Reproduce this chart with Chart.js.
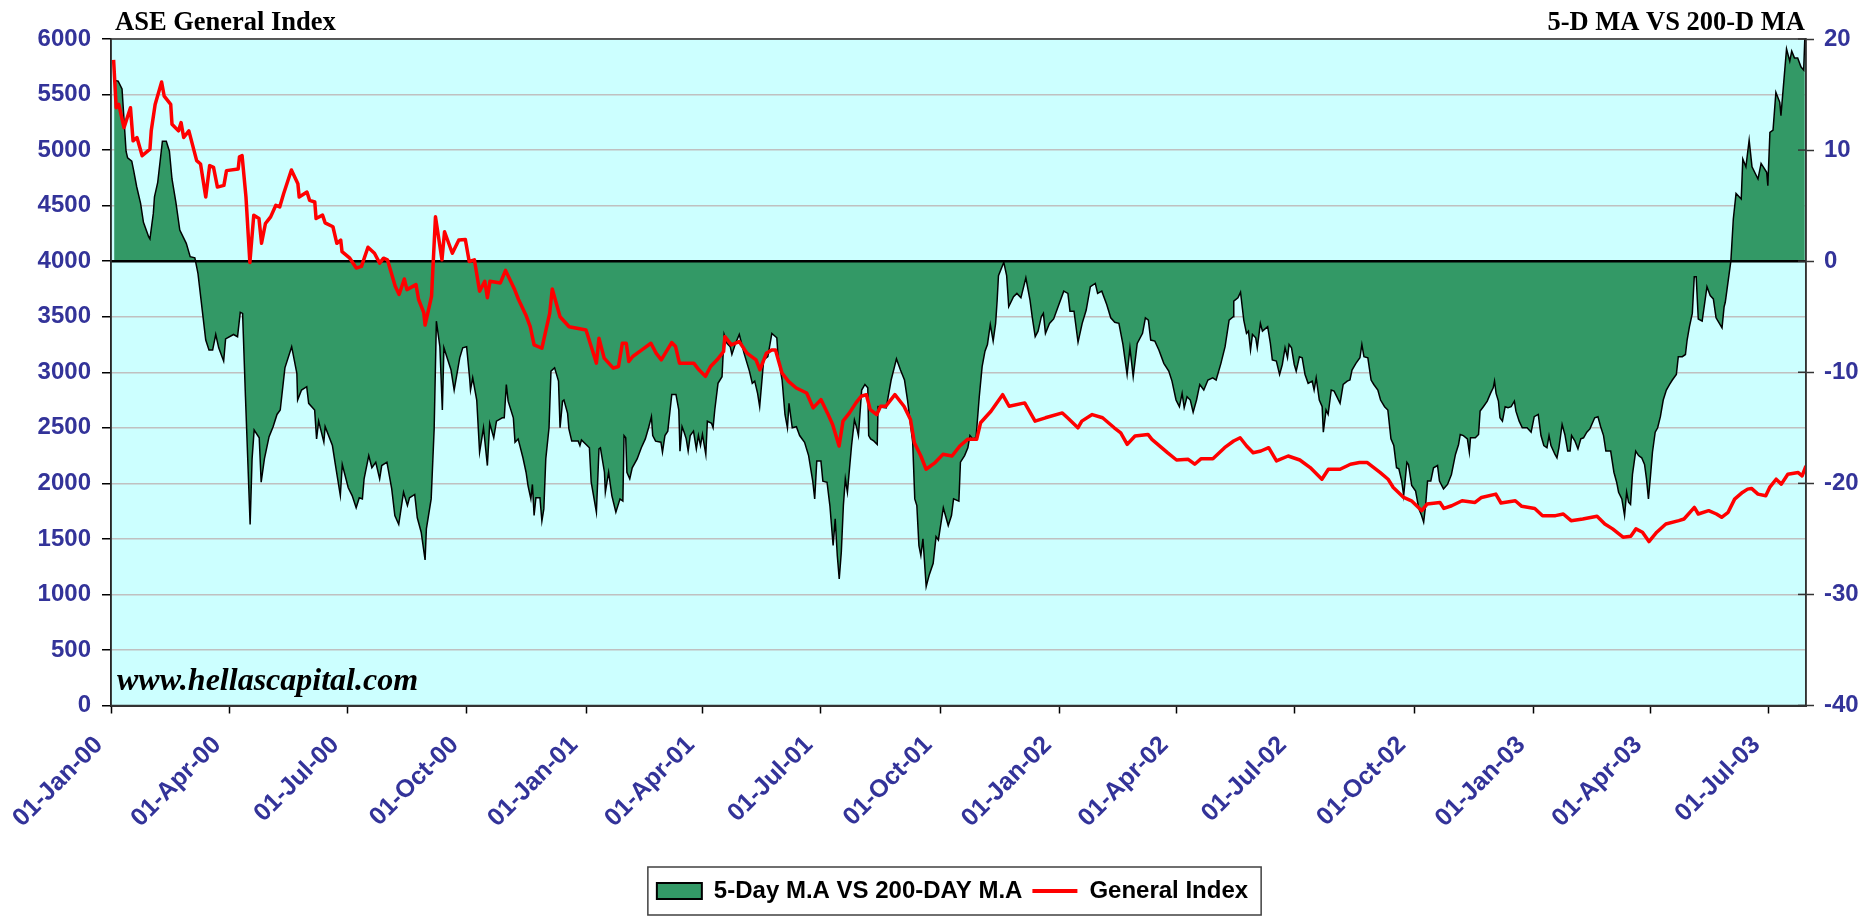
<!DOCTYPE html>
<html>
<head>
<meta charset="utf-8">
<title>ASE General Index - 5-D MA VS 200-D MA</title>
<script src="https://cdn.jsdelivr.net/npm/chart.js@4.4.1/dist/chart.umd.min.js"></script>
<style>
  html, body { margin: 0; padding: 0; background: #fff; overflow: hidden; }
  #wrap { width: 1864px; height: 916px; position: relative; }
</style>
</head>
<body>
<div id="wrap"><canvas id="chart"></canvas></div>
<script>
// texts
const leftTitle = 'ASE General Index';
const rightTitle = '5-D MA VS 200-D MA';
const watermark = 'www.hellascapital.com';
const seriesNames = ['5-Day M.A VS 200-DAY M.A', 'General Index'];

// x axis: quarterly tick labels, positions in days since 01-Jan-00
const tickLabels = ['01-Jan-00', '01-Apr-00', '01-Jul-00', '01-Oct-00', '01-Jan-01', '01-Apr-01',
  '01-Jul-01', '01-Oct-01', '01-Jan-02', '01-Apr-02', '01-Jul-02', '01-Oct-02', '01-Jan-03',
  '01-Apr-03', '01-Jul-03'];
const lastDay = 1306;

// left axis (General Index) and right axis (spread %) ranges
const indexTicks = { min: 0, max: 6000, step: 500 };
const spreadTicks = { min: -40, max: 20, step: 10 };

// General Index readings: [day since 01-Jan-00, index]
const generalIndex = [
  [2, 5812], [4, 5381], [6, 5411], [10, 5202], [15, 5381], [17, 5083], [20, 5113], [24, 4949], [30, 5009], [31, 5173],
  [34, 5411], [39, 5613], [41, 5485], [46, 5411], [47, 5232], [52, 5173], [54, 5247], [56, 5113], [60, 5173], [66, 4905],
  [69, 4875], [73, 4577], [76, 4860], [79, 4845], [82, 4667], [87, 4682], [89, 4815], [98, 4830], [99, 4940], [101, 4950],
  [104, 4577], [107, 3988], [110, 4414], [114, 4384], [116, 4161], [119, 4339], [123, 4399], [127, 4503], [130, 4488], [133, 4607],
  [139, 4821], [144, 4696], [145, 4577], [151, 4622], [153, 4548], [157, 4533], [158, 4384], [163, 4414], [165, 4345], [171, 4310],
  [174, 4161], [177, 4190], [178, 4086], [184, 4027], [189, 3938], [193, 3953], [198, 4125], [203, 4071], [207, 3982], [210, 4027],
  [213, 4012], [219, 3774], [222, 3700], [226, 3840], [228, 3744], [235, 3789], [237, 3655], [241, 3536], [242, 3425], [247, 3685],
  [250, 4399], [255, 4012], [257, 4265], [263, 4071], [268, 4190], [273, 4196], [276, 3997], [280, 4012], [284, 3729], [288, 3819],
  [290, 3670], [292, 3819], [300, 3804], [304, 3917], [311, 3744], [314, 3655], [320, 3506], [323, 3410], [326, 3246], [332, 3216],
  [338, 3530], [340, 3750], [346, 3500], [353, 3410], [366, 3380], [370, 3231], [374, 3082], [376, 3306], [380, 3127], [387, 3037],
  [391, 3052], [394, 3261], [397, 3261], [399, 3097], [402, 3142], [409, 3201], [416, 3261], [420, 3172], [424, 3112], [432, 3267],
  [435, 3231], [438, 3082], [443, 3082], [449, 3082], [453, 3022], [458, 2963], [462, 3052], [467, 3112], [472, 3187], [473, 3321],
  [478, 3246], [484, 3276], [490, 3172], [497, 3112], [500, 3022], [505, 3172], [509, 3201], [512, 3201], [517, 2993], [522, 2918],
  [528, 2858], [536, 2813], [541, 2679], [547, 2754], [552, 2634], [556, 2530], [561, 2336], [564, 2560], [569, 2634], [574, 2724],
  [578, 2784], [582, 2798], [585, 2664], [590, 2619], [593, 2694], [597, 2694], [604, 2798], [611, 2694], [616, 2575], [619, 2366],
  [624, 2246], [628, 2127], [635, 2187], [641, 2261], [648, 2246], [654, 2336], [660, 2396], [667, 2396], [670, 2545], [678, 2649],
  [687, 2798], [692, 2694], [704, 2724], [712, 2560], [720, 2590], [733, 2634], [737, 2590], [745, 2500], [748, 2560], [756, 2619],
  [764, 2590], [773, 2500], [778, 2455], [783, 2351], [789, 2426], [799, 2440], [802, 2396], [814, 2276], [821, 2210], [830, 2216],
  [835, 2172], [840, 2222], [849, 2222], [858, 2321], [865, 2381], [870, 2410], [875, 2336], [880, 2276], [886, 2291], [892, 2321],
  [898, 2202], [907, 2246], [916, 2210], [924, 2142], [933, 2037], [938, 2127], [947, 2127], [955, 2172], [962, 2187], [968, 2187],
  [978, 2097], [984, 2037], [988, 1963], [996, 1873], [1002, 1843], [1010, 1754], [1014, 1813], [1024, 1828], [1027, 1774], [1033, 1798],
  [1041, 1843], [1051, 1828], [1056, 1873], [1067, 1903], [1071, 1823], [1082, 1843], [1087, 1793], [1097, 1774], [1103, 1709], [1113, 1709],
  [1119, 1724], [1125, 1664], [1134, 1679], [1145, 1703], [1151, 1634], [1157, 1590], [1165, 1515], [1171, 1524], [1175, 1590], [1180, 1560],
  [1185, 1476], [1191, 1560], [1198, 1634], [1208, 1664], [1212, 1679], [1220, 1783], [1223, 1724], [1231, 1754], [1237, 1724], [1241, 1694],
  [1246, 1739], [1251, 1858], [1257, 1918], [1261, 1948], [1264, 1954], [1269, 1903], [1275, 1888], [1278, 1963], [1283, 2037], [1287, 1993],
  [1292, 2082], [1300, 2097], [1303, 2067], [1306, 2157]
];

// 5-day MA vs 200-day MA spread readings: [day since 01-Jan-00, %]
const maSpread = [
  [2.4, 16.3], [5.5, 16.2], [8.5, 15.5], [11.6, 9.9], [12.8, 9.3], [16, 9.0], [17.4, 8.2], [19.8, 6.7], [22.8, 5.2], [25, 3.5],
  [29, 2.2], [30, 2.0], [32.6, 4.3], [33.5, 5.8], [36, 7.1], [39.6, 10.8], [42.6, 10.8], [45, 9.9], [47, 7.4], [50, 5.3],
  [53, 2.8], [58, 1.6], [61, 0.4], [64.6, 0.3], [67, -1.1], [73, -7.1], [75.5, -8.0], [78.3, -8.0], [80.7, -6.6], [83, -7.8],
  [86.8, -9.0], [88.3, -7.0], [94.4, -6.6], [97.5, -6.8], [99.6, -4.6], [101.4, -4.7], [103.6, -12.2], [107.2, -23.7], [108.7, -17.8], [110.3, -15.2],
  [114.2, -15.9], [115.7, -19.9], [118.2, -17.8], [121.8, -15.8], [124.9, -14.9], [127.9, -13.8], [130.4, -13.4], [134, -9.6], [139.2, -7.7], [143.2, -10.1],
  [143.8, -12.5], [146.8, -11.6], [150.8, -11.3], [152.3, -12.8], [156.9, -13.4], [158.4, -16.0], [160, -14.4], [164, -16.3], [165, -14.9], [170.6, -16.6],
  [173, -18.4], [176.7, -21.1], [178.2, -18.3], [182.8, -20.4], [185.8, -21.1], [188.9, -22.2], [191.3, -21.3], [193.7, -21.4], [195, -19.6], [198.6, -17.5],
  [201, -18.6], [204, -18.1], [207, -19.6], [208.6, -18.4], [212.6, -18.1], [216.3, -20.5], [218.7, -22.9], [221.7, -23.7], [225.4, -20.8], [228.4, -22.0],
  [230, -21.3], [234, -21.0], [236, -23.1], [239, -24.4], [242, -26.9], [243, -24.1], [246.7, -21.4], [249, -15.1], [250.7, -5.4], [253.4, -7.7],
  [255.3, -13.4], [256.5, -7.8], [262, -9.8], [264.4, -11.6], [268.7, -8.7], [271, -7.8], [274, -7.7], [276.3, -10.5], [277, -11.6], [278.7, -10.5],
  [281.8, -12.5], [284, -17.2], [287, -15.0], [290, -18.4], [291.8, -14.6], [294.9, -15.9], [297, -14.4], [301.5, -14.1], [303, -14.1], [304.6, -11.1],
  [306, -12.6], [310, -14.1], [311.3, -16.3], [313.7, -16.0], [317.4, -17.7], [319.8, -19.0], [321.3, -20.2], [323.5, -21.4], [324.7, -20.1], [326, -22.9],
  [327.4, -21.3], [330.5, -21.3], [332, -23.4], [333.5, -22.3], [335, -17.8], [337.5, -15.0], [339, -9.9], [341.8, -9.6], [344.8, -10.8], [346, -15.0],
  [347.9, -12.6], [349, -12.5], [351.8, -13.7], [352.8, -15.1], [355, -16.2], [360, -16.2], [361.3, -16.6], [362.5, -16.1], [368.6, -16.8], [370, -19.9],
  [374, -22.6], [376, -16.9], [377.1, -16.8], [380.2, -19.0], [380.9, -20.8], [383.4, -19.0], [385.9, -21.1], [389, -22.6], [392.2, -21.4], [394.4, -21.6],
  [395.3, -15.7], [396.6, -15.9], [397.5, -19.0], [399.7, -19.6], [401.6, -18.6], [405.4, -17.8], [408.6, -16.8], [411.7, -16.0], [414.2, -15.0], [416.4, -14.0],
  [417.4, -15.7], [419.6, -16.2], [423.7, -16.3], [424.9, -17.2], [426.8, -15.7], [429, -15.3], [432.1, -12.0], [435.3, -12.0], [437.5, -13.4], [438.4, -17.1],
  [440, -14.9], [441.6, -15.4], [443.2, -16.0], [444.7, -17.1], [446.3, -15.7], [448.8, -15.3], [451, -16.9], [452.6, -15.7], [454.2, -16.6], [455.7, -15.6],
  [458.3, -17.4], [459.5, -14.4], [462.7, -14.6], [463.9, -15.0], [465.2, -13.4], [467.7, -11.0], [470.8, -10.4], [472.4, -6.6], [474.6, -7.4], [477.1, -7.7],
  [478.4, -8.4], [480.9, -7.5], [484.1, -6.6], [487.8, -8.3], [491.9, -9.9], [494.1, -11.0], [496, -10.8], [498.2, -11.9], [499.8, -13.1], [502.9, -8.9],
  [506.1, -8.6], [509.2, -6.5], [513, -6.9], [514, -8.6], [517.1, -10.7], [519.3, -13.8], [521.2, -15.0], [522.4, -12.8], [524.9, -15.0], [528.1, -14.9],
  [530.6, -15.7], [534.4, -16.3], [537.5, -17.5], [540.7, -19.8], [542.2, -21.4], [543.8, -18.0], [547, -18.0], [548.5, -19.8], [551.7, -19.9], [553.9, -22.0],
  [556.4, -25.6], [558, -23.2], [559.6, -26.5], [561.1, -28.6], [562.7, -26.2], [564.3, -22.0], [565.8, -19.6], [567.4, -20.8], [570.6, -16.6], [572.8, -14.3],
  [574.6, -15.0], [575.9, -15.7], [578.4, -11.6], [580.9, -11.1], [583.1, -11.4], [583.8, -15.7], [585.3, -16.0], [587.9, -16.2], [590.4, -16.5], [591, -13.1],
  [597.3, -13.2], [601.1, -10.7], [605.2, -8.8], [608.3, -9.8], [611.4, -10.7], [613.7, -12.5], [617.7, -16.3], [619.3, -21.4], [620.9, -22.0], [622.5, -25.6],
  [624, -26.5], [625.6, -25.0], [628.1, -29.3], [630.3, -28.3], [633.5, -27.2], [635.7, -24.8], [637.5, -25.1], [641.3, -22.2], [645.1, -23.8], [647.6, -22.9],
  [649.2, -21.4], [653.3, -21.6], [654.5, -18.1], [657.7, -17.5], [660.2, -16.8], [661.8, -15.7], [664, -16.0], [666.5, -15.9], [669, -12.2], [671.2, -9.5],
  [673.4, -8.1], [675.3, -7.5], [677.5, -5.7], [679.7, -7.2], [681.6, -5.6], [682.8, -3.5], [683.8, -1.3], [687.9, -0.1], [690.1, -1.3], [691.7, -4.1],
  [695.4, -3.2], [698, -2.9], [701.1, -3.3], [704.9, -1.5], [708.1, -3.5], [709.9, -5.1], [712.1, -6.8], [714.3, -6.3], [716.8, -5.0], [718.4, -4.7],
  [720, -6.5], [723.1, -5.6], [726.3, -5.2], [734.1, -2.7], [737.3, -2.9], [738.9, -4.5], [742, -4.5], [745.1, -7.3], [748.3, -5.6], [751.4, -4.4],
  [754.6, -2.3], [758.4, -2.0], [760.2, -2.9], [763.4, -2.7], [767.2, -3.9], [770.3, -5.1], [773.4, -5.5], [776.6, -5.6], [779.7, -7.5], [782.9, -10.2],
  [785.1, -7.8], [787.6, -10.4], [790.7, -7.4], [794.8, -6.5], [797, -5.1], [799.3, -5.3], [801.1, -7.1], [804.3, -7.2], [807.4, -8.0], [811.2, -9.2],
  [815, -9.9], [817.5, -10.8], [820.6, -12.5], [823.2, -13.1], [825.3, -11.9], [826.9, -13.2], [829.1, -12.2], [831.6, -12.5], [833.8, -13.6], [836.4, -12.5],
  [838.9, -11.1], [842, -11.6], [845.2, -10.7], [848.9, -10.5], [851.5, -10.7], [855.2, -9.2], [858.4, -7.7], [861.5, -5.3], [864.7, -5.0], [865.1, -3.6],
  [868.3, -3.3], [870.3, -2.8], [872.8, -5.3], [874.9, -6.5], [876.4, -6.3], [878, -8.0], [879.5, -6.6], [882, -6.9], [883.2, -7.8], [885.6, -5.6],
  [887.2, -6.3], [891.2, -5.9], [893.3, -7.4], [894.8, -8.9], [897.9, -9.0], [900.4, -10.2], [902.5, -9.3], [904.6, -7.8], [906.5, -8.7], [907.7, -7.5],
  [909.6, -7.8], [911.7, -9.3], [913.2, -9.9], [915.7, -8.6], [917.8, -8.7], [920, -10.2], [922.4, -11.0], [925.5, -10.8], [927, -11.6], [928.6, -10.5],
  [931, -12.5], [933.2, -13.1], [934.1, -15.4], [936.2, -13.4], [937.8, -13.8], [940.2, -11.6], [942.4, -11.7], [944.5, -12.2], [947, -12.8], [949.4, -11.1],
  [952.5, -10.8], [954.6, -10.7], [956.2, -9.8], [959.2, -9.2], [962.3, -8.7], [963.8, -7.5], [965.4, -8.6], [968.4, -8.7], [970.9, -10.7], [973, -11.1],
  [976.1, -11.6], [978.2, -12.5], [981.3, -13.1], [983.8, -13.4], [986.2, -16.0], [988.4, -16.6], [990.5, -18.6], [992.3, -18.7], [994.5, -19.8], [996, -21.1],
  [998.5, -18.1], [999.7, -18.3], [1002.2, -20.2], [1005.2, -20.7], [1007.7, -22.3], [1009.8, -22.9], [1011.4, -23.5], [1012.9, -22.0], [1014.4, -19.8], [1016.9, -19.8],
  [1019, -18.6], [1022.1, -18.4], [1023.6, -19.8], [1026.7, -20.5], [1029.8, -20.1], [1032.8, -19.2], [1035.9, -17.4], [1038.3, -16.5], [1039.6, -15.6], [1042, -15.7],
  [1045.1, -16.0], [1046.6, -17.2], [1047.5, -15.9], [1051.2, -15.9], [1053.7, -15.6], [1054.9, -13.5], [1057.4, -13.1], [1060.4, -12.6], [1062.9, -11.9], [1065, -11.4],
  [1066, -10.8], [1067.2, -11.9], [1069, -12.6], [1070.2, -14.1], [1072.1, -14.4], [1074.2, -13.1], [1076.4, -13.2], [1078.8, -13.1], [1081.3, -12.6], [1082.5, -13.5],
  [1085, -14.4], [1087.4, -15.0], [1091.1, -15.0], [1094.2, -15.4], [1096.6, -14.0], [1099.7, -13.8], [1101.8, -15.7], [1104, -16.6], [1106.4, -16.8], [1108, -15.7],
  [1109.5, -16.6], [1112.6, -17.4], [1114.1, -17.7], [1115.6, -16.8], [1118.1, -14.7], [1120.2, -15.6], [1122.4, -17.1], [1124.2, -17.1], [1125.4, -15.7], [1128, -16.2],
  [1130.3, -16.9], [1132.5, -16.0], [1134.6, -15.9], [1137.1, -15.4], [1139.5, -15.1], [1143.2, -14.1], [1145.7, -14.0], [1147.8, -14.9], [1150, -15.7], [1151.8, -17.1],
  [1155.5, -17.1], [1158, -19.0], [1160.1, -19.9], [1161.6, -20.8], [1164.1, -21.4], [1166.2, -22.9], [1167.8, -20.8], [1169.3, -21.7], [1170.8, -21.9], [1172.3, -19.2],
  [1174.8, -17.1], [1177, -17.5], [1179.4, -17.7], [1181.6, -18.3], [1183.1, -19.6], [1184.6, -21.4], [1186.2, -19.3], [1187.7, -17.2], [1189.8, -15.4], [1191.7, -15.0],
  [1193.8, -14.0], [1196, -12.5], [1198.4, -11.6], [1200.9, -11.1], [1203, -10.7], [1206.1, -10.2], [1207.6, -8.6], [1210.7, -8.6], [1213.1, -8.4], [1214.4, -7.1],
  [1216.2, -5.9], [1218.4, -4.7], [1219.9, -1.4], [1221.4, -1.4], [1223, -5.2], [1226, -5.4], [1229.7, -2.3], [1232.2, -3.1], [1234.6, -3.4], [1236.7, -5.1],
  [1241.3, -6.0], [1242.9, -4.1], [1243.8, -3.7], [1248.1, 0], [1250, 3.8], [1252.1, 6.1], [1256.1, 5.6], [1257.3, 9.2], [1259.7, 8.5], [1262.2, 10.9],
  [1264.4, 8.5], [1269, 7.4], [1271.4, 8.8], [1275.7, 8.0], [1276.6, 6.8], [1278.2, 11.6], [1280.6, 11.8], [1282.8, 15.2], [1285.8, 14.3], [1286.7, 13.1],
  [1291, 19.1], [1293.5, 18.0], [1295, 18.9], [1297.1, 18.3], [1299.6, 18.3], [1302.1, 17.5], [1304.2, 17.2], [1305.1, 20.1]
];

// 01-Jan-00 style label -> days since 01-Jan-00
const monthIndex = { Jan: 0, Apr: 3, Jul: 6, Oct: 9 };
function dayOf(label) {
  const [d, m, y] = label.split('-');
  return (Date.UTC(2000 + Number(y), monthIndex[m], Number(d)) - Date.UTC(2000, 0, 1)) / 86400000;
}
const tickDays = tickLabels.map(dayOf);

const axisBlue = '#333399';
const labelFont = { family: 'Liberation Sans', size: 24, weight: 'bold' };

// fills the plot background, draws the zero line, frame, titles, watermark and legend box
const decor = {
  id: 'decor',
  afterLayout(chart) {
    // nudge the legend a little left, as in the original
    chart.legend.left -= 6;
    chart.legend.right -= 6;
  },
  beforeDraw(chart) {
    const { ctx, chartArea: a } = chart;
    ctx.save();
    ctx.fillStyle = '#FFFFFF';
    ctx.fillRect(0, 0, chart.width, chart.height);
    ctx.fillStyle = '#CCFFFF';
    ctx.fillRect(a.left, a.top, a.right - a.left, a.bottom - a.top);
    ctx.restore();
  },
  afterDatasetDraw(chart, args) {
    if (args.index !== 0) return;
    const { ctx, chartArea: a } = chart;
    const y0 = chart.scales.y1.getPixelForValue(0);
    ctx.save();
    ctx.strokeStyle = '#000';
    ctx.lineWidth = 2.5;
    ctx.beginPath();
    ctx.moveTo(a.left, y0);
    ctx.lineTo(a.right, y0);
    ctx.stroke();
    ctx.restore();
  },
  afterDraw(chart) {
    const { ctx, chartArea: a } = chart;
    ctx.save();
    ctx.strokeStyle = '#333';
    ctx.lineWidth = 1.5;
    ctx.strokeRect(a.left, a.top, a.right - a.left, a.bottom - a.top);

    // right axis ticks cross the axis line
    const y1 = chart.scales.y1;
    y1.ticks.forEach(t => {
      const y = y1.getPixelForValue(t.value);
      ctx.beginPath();
      ctx.moveTo(a.right - 8, y);
      ctx.lineTo(a.right, y);
      ctx.stroke();
    });

    ctx.fillStyle = '#000';
    ctx.textBaseline = 'alphabetic';
    ctx.font = 'bold 26.5px "Liberation Serif"';
    ctx.textAlign = 'left';
    ctx.fillText(leftTitle, a.left + 4, 29.5);
    ctx.textAlign = 'right';
    ctx.fillText(rightTitle, a.right - 1, 29.5);

    ctx.font = 'italic bold 32px "Liberation Serif"';
    ctx.textAlign = 'left';
    ctx.fillText(watermark, a.left + 6, a.bottom - 16);

    // frame round the legend
    const boxes = chart.legend.legendHitBoxes;
    if (boxes && boxes.length) {
      const first = boxes[0];
      const last = boxes[boxes.length - 1];
      const left = first.left - 9;
      const right = last.left + last.width + 13;
      const mid = first.top + first.height / 2;
      ctx.strokeStyle = '#404040';
      ctx.lineWidth = 1.5;
      ctx.strokeRect(left, mid - 24, right - left, 48);
    }
    ctx.restore();
  }
};

Chart.defaults.font.family = 'Liberation Sans';

new Chart(document.getElementById('chart'), {
  type: 'line',
  data: {
    datasets: [
      {
        label: seriesNames[0],
        data: maSpread.map(p => ({ x: p[0], y: p[1] })),
        yAxisID: 'y1',
        order: 2,
        fill: 'origin',
        backgroundColor: '#339966',
        borderColor: '#000000',
        borderWidth: 1.5,
        pointRadius: 0,
        tension: 0
      },
      {
        label: seriesNames[1],
        data: generalIndex.map(p => ({ x: p[0], y: p[1] })),
        yAxisID: 'y',
        order: 1,
        fill: false,
        borderColor: '#FF0000',
        backgroundColor: '#FF0000',
        borderWidth: 3.5,
        borderJoinStyle: 'round',
        pointRadius: 0,
        tension: 0
      }
    ]
  },
  options: {
    responsive: true,
    maintainAspectRatio: false,
    animation: false,
    devicePixelRatio: 1,
    layout: { padding: { left: 0, right: 0, top: 39, bottom: 3 } },
    plugins: {
      title: { display: false },
      tooltip: { enabled: false },
      legend: {
        position: 'bottom',
        fullSize: false,
        labels: {
          usePointStyle: true,
          pointStyleWidth: 45,
          boxHeight: 16,
          padding: 10,
          color: '#000',
          font: { family: 'Liberation Sans', size: 24, weight: 'bold' },
          generateLabels: () => [
            { text: seriesNames[0], fillStyle: '#339966', strokeStyle: '#000', lineWidth: 2, pointStyle: 'rect', fontColor: '#000', datasetIndex: 0, hidden: false },
            { text: seriesNames[1], fillStyle: '#FF0000', strokeStyle: '#FF0000', lineWidth: 4, pointStyle: 'line', fontColor: '#000', datasetIndex: 1, hidden: false }
          ]
        }
      }
    },
    scales: {
      x: {
        type: 'linear',
        min: 0,
        max: lastDay,
        afterBuildTicks: scale => { scale.ticks = tickDays.map(v => ({ value: v })); },
        afterFit: scale => { scale.height = 163.5; },
        ticks: {
          autoSkip: false,
          minRotation: 45,
          maxRotation: 45,
          padding: 17,
          labelOffset: -12,
          color: axisBlue,
          font: { family: 'Liberation Sans', size: 25, weight: 'bold' },
          callback: (value, i) => tickLabels[i]
        },
        grid: { drawOnChartArea: false, tickLength: 8, tickColor: '#000', tickWidth: 1.5 },
        border: { color: '#333', width: 2 }
      },
      y: {
        position: 'left',
        min: indexTicks.min,
        max: indexTicks.max,
        afterFit: scale => { scale.width = 111; },
        ticks: {
          stepSize: indexTicks.step,
          padding: 11,
          color: axisBlue,
          font: labelFont,
          callback: v => String(v)
        },
        grid: {
          color: '#C0C0C0',
          lineWidth: 1.5,
          tickLength: 9,
          tickColor: '#000',
          tickWidth: 1.5
        },
        border: { color: '#000', width: 1.5 }
      },
      y1: {
        position: 'right',
        min: spreadTicks.min,
        max: spreadTicks.max,
        afterFit: scale => { scale.width = 58; },
        ticks: {
          stepSize: spreadTicks.step,
          padding: 10,
          color: axisBlue,
          font: labelFont,
          callback: v => String(v)
        },
        grid: { drawOnChartArea: false, tickLength: 8, tickColor: '#333', tickWidth: 1.5 },
        border: { color: '#333', width: 1.5 }
      }
    }
  },
  plugins: [decor]
});
</script>
</body>
</html>
